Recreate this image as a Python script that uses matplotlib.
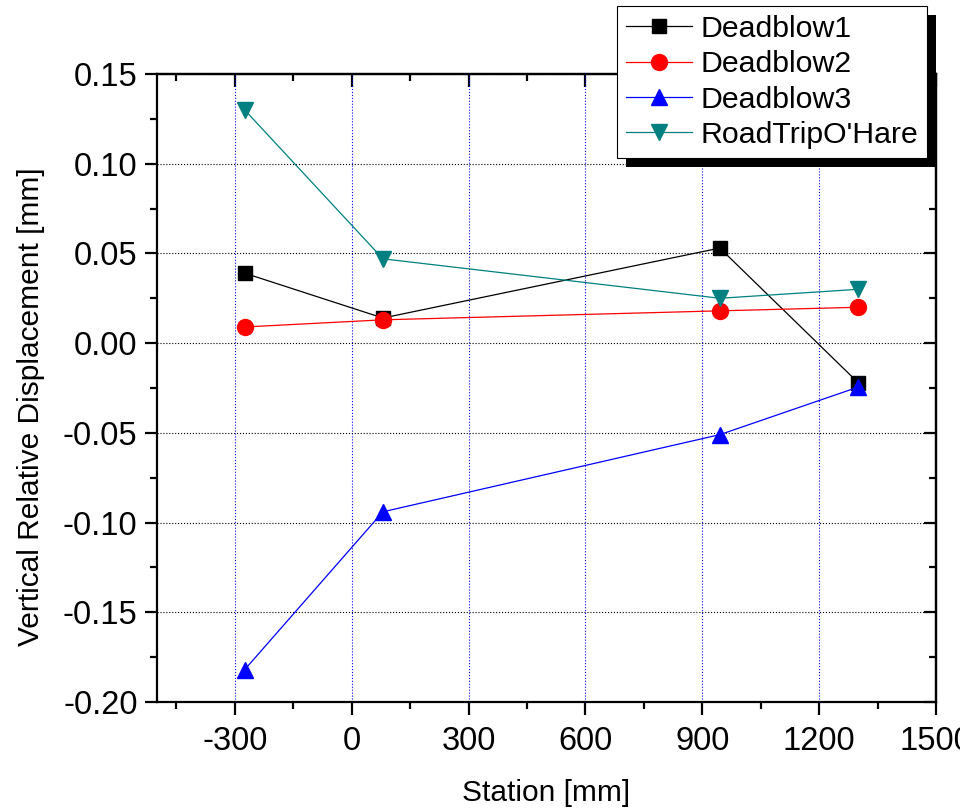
"""
Vertical relative displacement vs station for the deadblow and road trip runs.
"""
import matplotlib
matplotlib.use('Agg')
import matplotlib.pyplot as plt
from matplotlib.ticker import MultipleLocator
from matplotlib.patches import Rectangle
from matplotlib.transforms import IdentityTransform

plt.rcParams['font.family'] = ['Liberation Sans', 'DejaVu Sans']

station_d1 = [-275, 80, 945, 1300]
deadblow1 = [0.039, 0.014, 0.053, -0.022]
station_d2 = [-275, 80, 945, 1300]
deadblow2 = [0.009, 0.013, 0.018, 0.020]
station_d3 = [-275, 80, 945, 1300]
deadblow3 = [-0.182, -0.094, -0.051, -0.0245]
station_rt = [-275, 80, 945, 1300]
roadtrip = [0.130, 0.047, 0.025, 0.030]

series = [
    (station_d1, deadblow1, 'Deadblow1', 'black', 's', 10),
    (station_d2, deadblow2, 'Deadblow2', 'red', 'o', 11.5),
    (station_d3, deadblow3, 'Deadblow3', 'blue', '^', 12),
    (station_rt, roadtrip, "RoadTripO'Hare", '#008080', 'v', 12),
]

fig = plt.figure(figsize=(9.6, 8.1), dpi=100)
ax = fig.add_axes([157 / 960, 1 - 702 / 810, (936 - 157) / 960, (702 - 74) / 810])

for x, y, name, c, m, ms in series:
    ax.plot(x, y, color=c, lw=0.9, marker=m, ms=ms, mfc=c, mec=c, label=name, zorder=3)

ax.set_xlim(-500, 1500)
ax.set_ylim(-0.20, 0.15)
ax.xaxis.set_major_locator(MultipleLocator(300))
ax.xaxis.set_minor_locator(MultipleLocator(150))
ax.yaxis.set_major_locator(MultipleLocator(0.05))
ax.yaxis.set_minor_locator(MultipleLocator(0.025))
ax.yaxis.set_major_formatter(lambda v, p: f'{v:.2f}')
ax.xaxis.set_major_formatter(lambda v, p: f'{v:.0f}')

ax.grid(axis='x', which='major', color='blue', ls=':', lw=0.8)
ax.grid(axis='y', which='major', color='black', ls=':', lw=0.8)

for s in ax.spines.values():
    s.set_linewidth(1.6)
ax.tick_params(which='both', direction='out', width=1.6, labelsize=23.5)
ax.tick_params(which='major', length=9)
ax.tick_params(which='minor', length=5)
ax.tick_params(axis='x', pad=8)
ax.tick_params(axis='y', pad=5)

# mirrored ticks pointing inward on top and right
top = ax.secondary_xaxis('top')
top.xaxis.set_major_locator(MultipleLocator(300))
top.xaxis.set_minor_locator(MultipleLocator(150))
top.tick_params(which='both', direction='in', width=1.6, labeltop=False)
top.tick_params(which='major', length=9)
top.tick_params(which='minor', length=5)
top.spines['top'].set_linewidth(1.6)
right = ax.secondary_yaxis('right')
right.yaxis.set_major_locator(MultipleLocator(0.05))
right.yaxis.set_minor_locator(MultipleLocator(0.025))
right.tick_params(which='both', direction='in', width=1.6, labelright=False)
right.tick_params(which='major', length=9)
right.tick_params(which='minor', length=5)
right.spines['right'].set_linewidth(1.6)

ax.set_xlabel('Station [mm]', fontsize=21.5, labelpad=16)
ax.set_ylabel('Vertical Relative Displacement [mm]', fontsize=21.5)
ax.yaxis.set_label_coords(-0.144, 0.47)

leg = ax.legend(loc='upper right', bbox_to_anchor=(927 / 960, 1 - 6 / 810),
                bbox_transform=fig.transFigure, borderaxespad=0, fontsize=21.8,
                fancybox=False, framealpha=1, edgecolor='black',
                handlelength=2.2, labelspacing=0.24, handletextpad=0.26,
                borderpad=0.3)
leg.get_frame().set_linewidth(0.8)
leg.set_zorder(10)

fig.canvas.draw()
bb = leg.get_window_extent()
shadow = Rectangle((bb.x0 + 9, bb.y0 - 9), bb.width, bb.height, transform=IdentityTransform(),
                   facecolor='black', edgecolor='none', zorder=9.5, clip_on=False)
ax.add_patch(shadow)

fig.savefig('out.png', dpi=100)
plt.close(fig)
